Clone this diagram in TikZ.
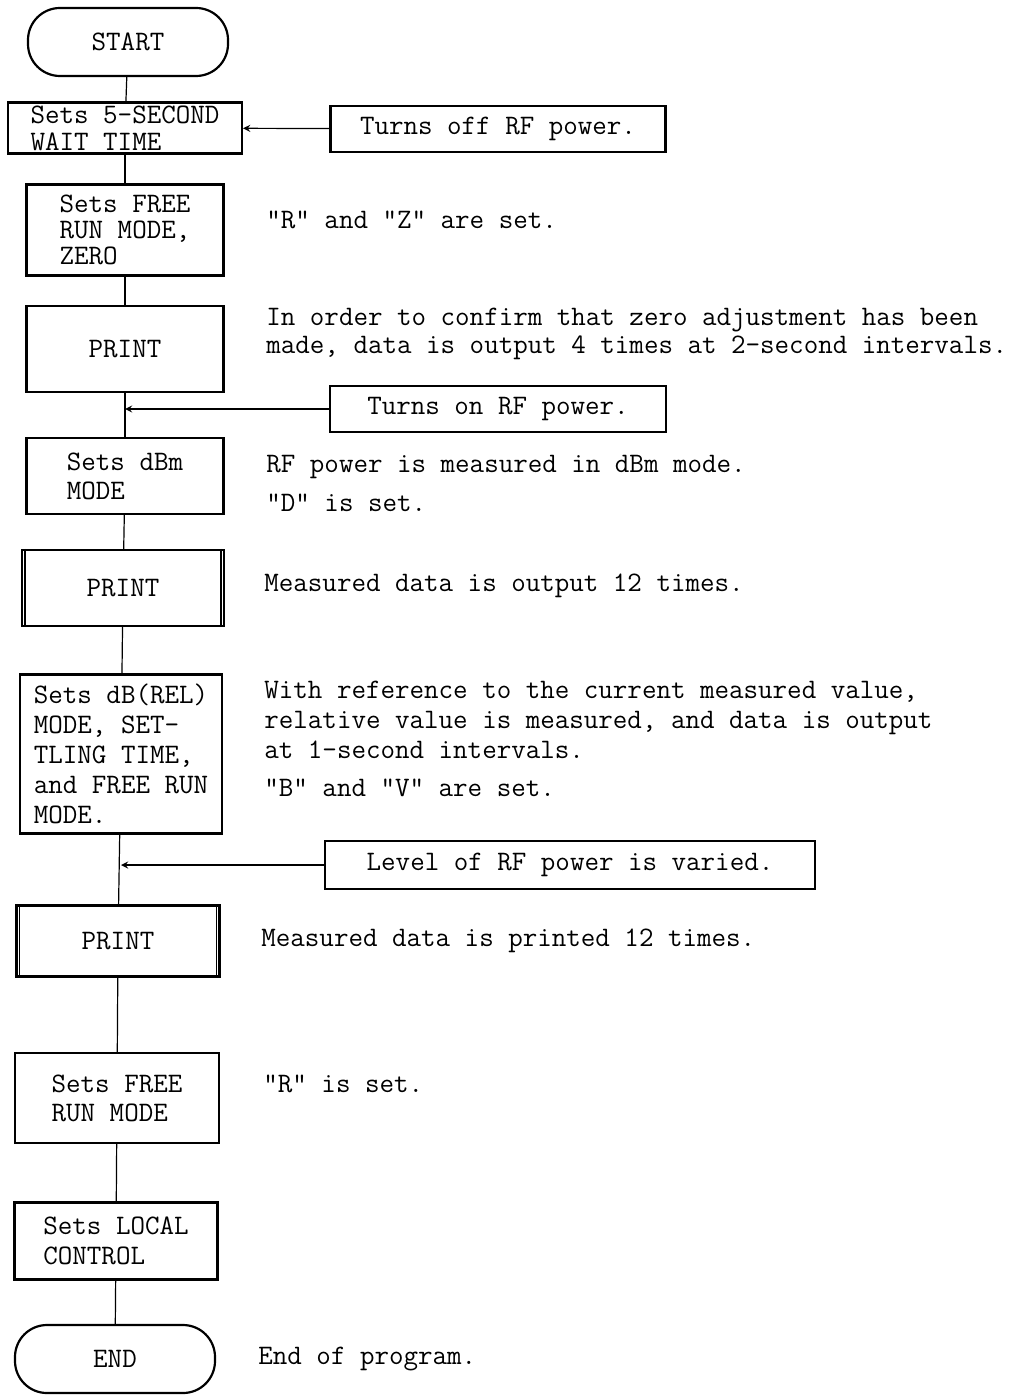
\documentclass[tikz,border=0pt]{standalone}
\usepackage{fontspec}
\setmonofont{Latin Modern Mono}
\usetikzlibrary{positioning}
\begin{document}
\begin{tikzpicture}[x=0.5pt, y=-0.5pt, font=\ttfamily\fontsize{14.1}{14}\selectfont,
	startstop/.style={rectangle, rounded corners=16pt, minimum width=100pt, minimum height=34pt, text centered, draw=black, line width=1.1pt},
	process/.style={rectangle, minimum width=98.5pt, text centered, align=left, draw=black, line width=1.1pt},
	remark/.style={rectangle, minimum height=23pt, text centered, draw=black, line width=1.1pt},
	note/.style={anchor=west, inner sep=0pt, align=left},
	line/.style={line width=0.6pt},
	arrow/.style={line width=0.6pt,->,>=stealth}]

	\useasboundingbox (0,0) rectangle (1035,1395);

	% main column
	\node (start) [startstop] at (128,42) {START};
	\node (wait) [process, minimum width=117pt, minimum height=24pt, inner xsep=0pt, inner ysep=1.5pt, font=\ttfamily\fontsize{14.1}{13.5}\selectfont] at (125,128) {Sets 5-SECOND\\WAIT TIME};
	\node (freerun) [process, minimum height=45.5pt, font=\ttfamily\fontsize{14.1}{13}\selectfont] at (125,230) {Sets FREE\\RUN MODE,\\ZERO};
	\node (printzero) [process, minimum height=43pt] at (125,349) {PRINT};
	\node (dbm) [process, minimum height=38pt, font=\ttfamily\fontsize{14.1}{14.5}\selectfont] at (125,476) {Sets dBm\\MODE};
	\node (printdbm) [process, minimum width=101pt, minimum height=38pt] at (123,588) {PRINT};
	\node (dbrel) [process, minimum width=101pt, minimum height=79.5pt, font=\ttfamily\fontsize{14.1}{15}\selectfont] at (121,754) {Sets dB(REL)\\MODE, SET-\\TLING TIME,\\and FREE RUN\\MODE.};
	\node (printrel) [process, minimum width=101.5pt, minimum height=35.5pt] at (118,941) {PRINT};
	\node (freerunb) [process, minimum width=102pt, minimum height=45pt, font=\ttfamily\fontsize{14.1}{14.5}\selectfont] at (117,1098) {Sets FREE\\RUN MODE};
	\node (local) [process, minimum width=101.5pt, minimum height=38.5pt, font=\ttfamily\fontsize{14.1}{15}\selectfont] at (116,1241) {Sets LOCAL\\CONTROL};
	\node (end) [startstop] at (115,1359) {END};

	% outside actions
	\node (rfoff) [remark, minimum width=167.5pt] at (498,129) {Turns off RF power.};
	\node (rfon) [remark, minimum width=168pt] at (498,409) {Turns on RF power.};
	\node (rfvary) [remark, minimum width=245pt, minimum height=24pt] at (570,865) {Level of RF power is varied.};

	% double sides of the PRINT boxes
	\foreach \p in {printdbm, printrel} {
		\draw [line width=0.8pt] ([xshift=2pt]\p.north west) -- ([xshift=2pt]\p.south west);
		\draw [line width=0.8pt] ([xshift=-2pt]\p.north east) -- ([xshift=-2pt]\p.south east);
	}

	% comments
	\node (cmfree) [note] at (266,220) {"R" and "Z" are set.};
	\node (cmzero) [note, font=\ttfamily\fontsize{14.1}{14}\selectfont] at (266,334) {In order to confirm that zero adjustment has been\\made, data is output 4 times at 2-second intervals.};
	\node (cmdbm) [note] at (266,467) {RF power is measured in dBm mode.};
	\node (cmdbmset) [note] at (266,503) {"D" is set.};
	\node (cmprintdbm) [note] at (264,586) {Measured data is output 12 times.};
	\node (cmrel) [note, font=\ttfamily\fontsize{14.1}{15}\selectfont] at (264,720) {With reference to the current measured value,\\relative value is measured, and data is output\\at 1-second intervals.};
	\node (cmrelset) [note] at (264,788) {"B" and "V" are set.};
	\node (cmprintrel) [note] at (261,941) {Measured data is printed 12 times.};
	\node (cmfreeb) [note] at (263,1084) {"R" is set.};
	\node (cmend) [note] at (258,1359) {End of program.};

	% flow
	\draw [line] (start) -- (wait);
	\draw [line] (wait) -- (freerun);
	\draw [line] (freerun) -- (printzero);
	\draw [line] (printzero) -- (dbm);
	\draw [line] (dbm) -- (printdbm);
	\draw [line] (printdbm) -- (dbrel);
	\draw [line] (dbrel) -- (printrel);
	\draw [line] (printrel) -- (freerunb);
	\draw [line] (freerunb) -- (local);
	\draw [line] (local) -- (end);

	\draw [arrow] (rfoff) -- (wait);
	\draw [arrow] (rfon.west) -- (rfon.west -| printzero.south);
	\draw [arrow] (rfvary.west) -- (rfvary.west -| dbrel.south);
\end{tikzpicture}
\end{document}
